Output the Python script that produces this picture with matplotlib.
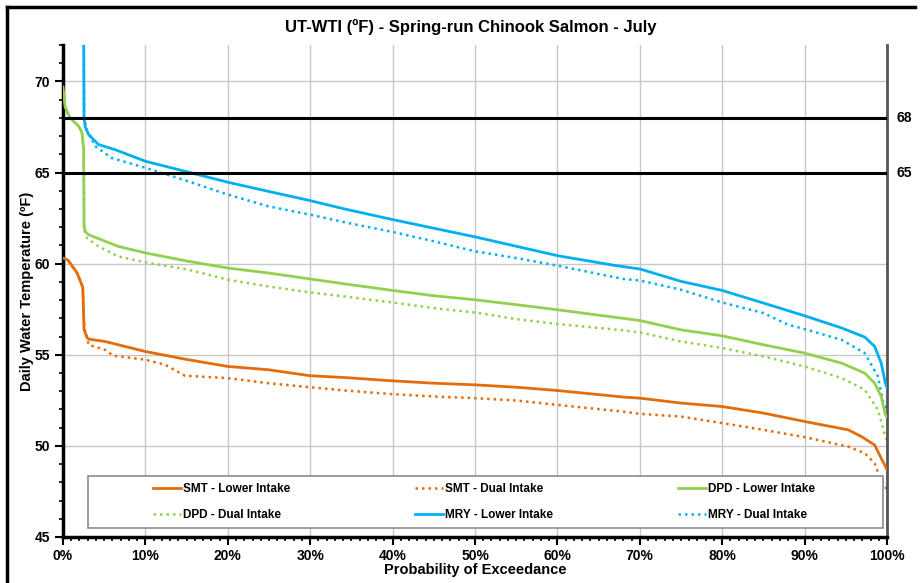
import matplotlib.pyplot as plt
from matplotlib.patches import Rectangle
from matplotlib.lines import Line2D
from matplotlib.ticker import MultipleLocator, FuncFormatter

plt.rcParams['font.family'] = ['Liberation Sans', 'DejaVu Sans']
plt.rcParams['font.weight'] = 'bold'

# Exceedance curves (percent of days exceeded vs daily temperature, deg F)
smt_lower_pct = [0, 0.6, 1.7, 2.4, 2.55, 2.9, 3.1, 5.1, 10, 14.8, 20, 24.9, 30, 34.2, 40, 45,
                 50, 55, 60, 68, 70, 75, 80, 85, 90, 95.3, 96.9, 98.5, 99.3, 100]
smt_lower = [60.3, 60.2, 59.5, 58.7, 56.4, 55.95, 55.86, 55.73, 55.18, 54.76, 54.36, 54.18,
             53.85, 53.75, 53.57, 53.44, 53.35, 53.22, 53.04, 52.68, 52.62, 52.35, 52.16,
             51.80, 51.34, 50.88, 50.51, 50.05, 49.32, 48.7]

smt_dual_pct = [0, 0.6, 1.7, 2.4, 2.6, 2.9, 3.1, 5.1, 6.1, 10, 12.4, 14.8, 20, 24.9, 30, 34.2,
                40, 45, 50, 55, 60, 68, 70, 75, 80, 85, 90, 95.3, 97.3, 98.5, 99.1, 100]
smt_dual = [60.3, 60.2, 59.5, 58.7, 56.4, 56.0, 55.55, 55.27, 54.95, 54.73, 54.45, 53.85,
            53.72, 53.44, 53.22, 53.04, 52.84, 52.71, 52.62, 52.49, 52.25, 51.88, 51.76,
            51.61, 51.25, 50.88, 50.48, 49.96, 49.6, 49.05, 48.31, 47.6]

dpd_lower_pct = [0, 0.25, 0.85, 1.9, 2.3, 2.5, 2.55, 2.7, 3.1, 6.7, 10, 15.2, 20, 24.9, 30,
                 34.2, 40, 45, 50, 55, 60, 70, 75, 80, 85, 90, 94.5, 97.3, 98.5, 99.3,
                 99.8, 100]
dpd_lower = [69.7, 68.6, 68.0, 67.55, 67.2, 66.3, 62.05, 61.77, 61.59, 60.95, 60.59, 60.13,
             59.76, 59.49, 59.16, 58.89, 58.53, 58.24, 58.02, 57.75, 57.47, 56.88,
             56.37, 56.04, 55.55, 55.09, 54.54, 53.99, 53.44, 52.71, 51.7, 51.6]

dpd_dual_pct = [0, 0.25, 0.85, 1.9, 2.3, 2.5, 2.6, 2.9, 4.3, 6.7, 10, 15.2, 20, 24.9, 30,
                34.2, 40, 45, 50, 55, 60, 68, 70, 75, 80, 85, 90, 94.5, 97.3, 98.9, 99.8, 100]
dpd_dual = [69.7, 68.6, 68.0, 67.55, 67.2, 66.3, 61.8, 61.41, 60.95, 60.40, 60.07, 59.67,
            59.12, 58.75, 58.42, 58.20, 57.87, 57.56, 57.32, 56.96, 56.69, 56.34, 56.23,
            55.73, 55.37, 54.91, 54.36, 53.72, 53.08, 51.98, 50.51, 50.3]

mry_lower_pct = [0, 2.5, 2.55, 2.7, 3.1, 4.3, 6.3, 10, 14.8, 20, 24.9, 30, 34.2, 40, 50, 60,
                 67, 70, 75, 80, 85, 90, 94.5, 97.3, 98.5, 99.3, 99.8, 100]
mry_lower = [80, 75, 68.0, 67.5, 67.09, 66.54, 66.26, 65.62, 65.07, 64.47, 63.97, 63.46,
             63.0, 62.42, 61.47, 60.44, 59.9, 59.71, 59.03, 58.53, 57.84, 57.14, 56.47,
             55.97, 55.46, 54.54, 53.44, 53.2]

mry_dual_pct = [0, 2.5, 2.55, 2.9, 3.9, 5.9, 10, 15.2, 20, 24.9, 30, 34.2, 40, 45, 50, 55,
                60, 68, 70, 75, 80, 85, 88, 90, 94.5, 97.3, 98.9, 99.6, 100]
mry_dual = [80, 75, 68.0, 67.33, 66.45, 65.8, 65.26, 64.52, 63.79, 63.15, 62.69, 62.27,
            61.74, 61.23, 60.68, 60.31, 59.89, 59.16, 59.08, 58.57, 57.87, 57.29, 56.65,
            56.41, 55.82, 55.09, 53.81, 52.25, 52.0]

thresholds = [68, 65]

orange = '#E46C0A'
green = '#92D050'
blue = '#00B0F0'
dots = (0, (1, 1.6))

fig = plt.figure(figsize=(9.22, 5.83), dpi=100)
ax = fig.add_axes([63 / 922, 46 / 583, 824 / 922, 492 / 583])

series = [
    (smt_lower_pct, smt_lower, orange, '-', 'SMT - Lower Intake'),
    (smt_dual_pct, smt_dual, orange, dots, 'SMT - Dual Intake'),
    (dpd_lower_pct, dpd_lower, green, '-', 'DPD - Lower Intake'),
    (dpd_dual_pct, dpd_dual, green, dots, 'DPD - Dual Intake'),
    (mry_lower_pct, mry_lower, blue, '-', 'MRY - Lower Intake'),
    (mry_dual_pct, mry_dual, blue, dots, 'MRY - Dual Intake'),
]
handles = {}
for pct, vals, col, ls, name in series:
    lw = 2.0 if ls == '-' else 1.8
    ln, = ax.plot([p / 100 for p in pct], vals, color=col, linestyle=ls, lw=lw,
                  zorder=3 if ls == '-' else 2, label=name)
    handles[name] = ln

# temperature thresholds
for t in thresholds:
    ax.axhline(t, color='black', lw=2.2, zorder=4)
    ax.text(1.012, t, str(t), transform=ax.get_yaxis_transform(), va='center',
            ha='left', fontsize=10, fontweight='bold')

ax.set_xlim(0, 1)
ax.set_ylim(45, 72)
ax.xaxis.set_major_locator(MultipleLocator(0.1))
ax.xaxis.set_minor_locator(MultipleLocator(0.01))
ax.yaxis.set_major_locator(MultipleLocator(5))
ax.yaxis.set_minor_locator(MultipleLocator(1))
ax.xaxis.set_major_formatter(FuncFormatter(lambda v, _: f'{v * 100:.0f}%'))
ax.grid(True, which='major', color='#C8C8C8', lw=1.0, zorder=0)
ax.set_axisbelow(True)
ax.tick_params(axis='both', which='major', labelsize=10, width=1.5, length=6, color='black')
ax.tick_params(axis='both', which='minor', width=1.2, length=3, color='black')
ax.tick_params(axis='x', pad=3)

ax.spines['top'].set_visible(False)
ax.spines['left'].set_linewidth(2.5)
ax.spines['bottom'].set_linewidth(2.5)
ax.spines['right'].set_color('#555555')
ax.spines['right'].set_linewidth(2)

ax.set_xlabel('Probability of Exceedance', fontsize=10.5, fontweight='bold')
ax.set_ylabel('Daily Water Temperature (ºF)', fontsize=10.5, fontweight='bold')
ax.xaxis.set_label_coords(0.5, -26 / 492)
ax.yaxis.set_label_coords(-29 / 824, 0.5)
fig.text(471 / 922, 1 - 27 / 583, 'UT-WTI (ºF) - Spring-run Chinook Salmon - July',
         ha='center', va='center', fontsize=12, fontweight='bold')

# legend box
ax.add_patch(Rectangle((25 / 824, 9 / 492), 795 / 824, 52 / 492, transform=ax.transAxes,
                       facecolor='white', edgecolor='#8C8C8C', lw=1.2, zorder=5))
order = ['SMT - Lower Intake', 'DPD - Dual Intake', 'SMT - Dual Intake',
         'MRY - Lower Intake', 'DPD - Lower Intake', 'MRY - Dual Intake']
leg = ax.legend([handles[k] for k in order], order, ncol=3, mode='expand', loc='center',
                bbox_to_anchor=(90 / 824, 9 / 492, 662 / 824, 52 / 492), frameon=False,
                borderaxespad=0, borderpad=0, handlelength=2.4, handletextpad=0.15,
                labelspacing=1.2, prop={'size': 8.5, 'weight': 'bold'})
leg.set_zorder(6)

# outer frame
fig.add_artist(Line2D([7 / 922, 7 / 922], [0, 1 - 7 / 583], color='black', lw=2.5))
fig.add_artist(Line2D([7 / 922, 915 / 922], [1 - 7 / 583, 1 - 7 / 583], color='black', lw=2.5))

fig.savefig('out.png', dpi=100)
